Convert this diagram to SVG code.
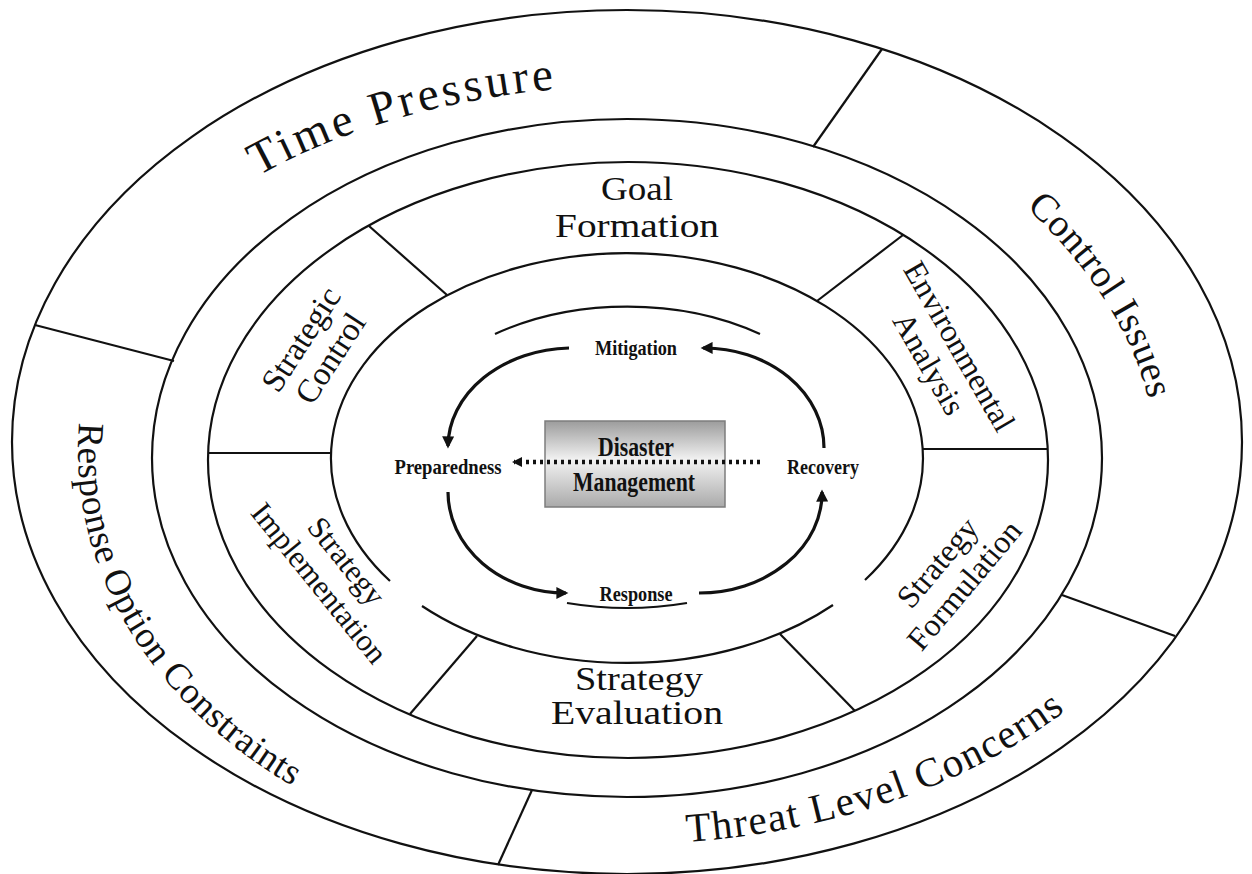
<svg xmlns="http://www.w3.org/2000/svg" width="1252" height="874" viewBox="0 0 1252 874">
<style>
.ring{fill:none;stroke:#111;stroke-width:2.2}
.sep{stroke:#111;stroke-width:2.2;fill:none}
.serif{font-family:"Liberation Serif","Times New Roman",serif;fill:#111}
.outer{font-size:40px}
.mid{font-size:32px;text-anchor:middle}
.cyc{font-size:21px;font-weight:bold;text-anchor:middle}
.dm{font-size:27px;font-weight:bold;text-anchor:middle}
.arr{fill:none;stroke:#111;stroke-width:3.2}
</style>
<defs>
<marker id="ah" viewBox="0 0 10 10" refX="8" refY="5" markerWidth="13" markerHeight="12" markerUnits="userSpaceOnUse" orient="auto">
<path d="M0,0 L10,5 L0,10 z" fill="#111"/>
</marker>
<marker id="ahs" viewBox="0 0 10 10" refX="8" refY="5" markerWidth="10" markerHeight="10" markerUnits="userSpaceOnUse" orient="auto">
<path d="M0,0 L10,5 L0,10 z" fill="#111"/>
</marker>
<linearGradient id="boxg" x1="0" y1="0" x2="0" y2="1">
<stop offset="0" stop-color="#9c9c9c"/>
<stop offset="0.45" stop-color="#f2f2f2"/>
<stop offset="1" stop-color="#aaaaaa"/>
</linearGradient>
<path id="pTime" d="M258,176 A577,372 0 0 1 1034,189"/>
<path id="pControl" d="M1026,207 Q1124,300 1148,398 L1166,468"/>
<path id="pResp" d="M79.3,422.6 A548,421 0 0 0 626,873"/>
<path id="pThreat" d="M687,842 A585,392 0 0 0 1211,452"/>
</defs>
<rect width="1252" height="874" fill="#fff"/>

<g id="outer-ring">
<ellipse class="ring" cx="627" cy="442" rx="615" ry="432"/>
<ellipse class="ring" cx="627" cy="458" rx="475" ry="339"/>
<line class="sep" x1="882" y1="49" x2="813" y2="147"/>
<line class="sep" x1="35" y1="325" x2="174" y2="361"/>
<line class="sep" x1="1062" y1="595" x2="1175" y2="636"/>
<line class="sep" x1="532" y1="790" x2="498" y2="865"/>
</g>

<g id="middle-ring">
<ellipse class="ring" cx="628" cy="460" rx="420" ry="298"/>
<path class="ring" d="M422,606 A296,205 0 0 0 833,605 M865,580 A296,205 0 1 0 390,581"/>
<line class="sep" x1="447" y1="295" x2="369" y2="226"/>
<line class="sep" x1="817" y1="301" x2="903" y2="235"/>
<line class="sep" x1="208" y1="453" x2="331" y2="453"/>
<line class="sep" x1="923" y1="449" x2="1048" y2="449"/>
<line class="sep" x1="477" y1="636" x2="410" y2="714"/>
<line class="sep" x1="780" y1="634" x2="855" y2="711"/>
</g>

<g id="inner-ring">
<path class="ring" d="M495,334 A230,150 0 0 1 760,334"/>
<path class="ring" d="M567,603 Q627,613 687,603"/>
</g>

<g id="node-time-pressure">
<text class="serif outer" style="font-size:47px;letter-spacing:3.5px"><textPath href="#pTime">Time Pressure</textPath></text>
</g>
<g id="node-control-issues">
<text class="serif outer" style="font-size:39px;letter-spacing:0.5px"><textPath href="#pControl">Control Issues</textPath></text>
</g>
<g id="node-response-option-constraints">
<text class="serif outer" style="font-size:37px;letter-spacing:0.5px"><textPath href="#pResp">Response Option Constraints</textPath></text>
</g>
<g id="node-threat-level-concerns">
<text class="serif outer" style="font-size:41px;letter-spacing:1.5px"><textPath href="#pThreat">Threat Level Concerns</textPath></text>
</g>

<g id="node-goal-formation">
<text class="serif mid" x="637" y="200" style="font-size:34px" textLength="72" lengthAdjust="spacingAndGlyphs">Goal</text>
<text class="serif mid" x="637" y="237" style="font-size:34px" textLength="164" lengthAdjust="spacingAndGlyphs">Formation</text>
</g>
<g id="node-strategy-evaluation">
<text class="serif mid" x="639" y="690" style="font-size:34px" textLength="128" lengthAdjust="spacingAndGlyphs">Strategy</text>
<text class="serif mid" x="637" y="724" style="font-size:34px" textLength="172" lengthAdjust="spacingAndGlyphs">Evaluation</text>
</g>
<g id="node-strategic-control" transform="translate(316,349) rotate(-57)">
<text class="serif mid" x="0" y="-7" style="font-size:33px">Strategic</text>
<text class="serif mid" x="0" y="28" style="font-size:33px">Control</text>
</g>
<g id="node-environmental-analysis" transform="translate(944,355) rotate(60)">
<text class="serif mid" x="0" y="-7">Environmental</text>
<text class="serif mid" x="0" y="28">Analysis</text>
</g>
<g id="node-strategy-formulation" transform="translate(951,574) rotate(-50)">
<text class="serif mid" x="0" y="-7">Strategy</text>
<text class="serif mid" x="0" y="28">Formulation</text>
</g>
<g id="node-strategy-implementation" transform="translate(333,572) rotate(51)">
<text class="serif mid" x="0" y="-7" style="font-size:31px">Strategy</text>
<text class="serif mid" x="0" y="28" style="font-size:31px">Implementation</text>
</g>

<g id="node-disaster-management">
<rect x="545" y="421" width="180" height="86" fill="url(#boxg)" stroke="#7d7d7d" stroke-width="1.5"/>
</g>

<g id="connectors">
<path class="arr" d="M569,348 A125,99 0 0 0 448,446" marker-end="url(#ah)"/>
<path class="arr" d="M824,448 A120,100 0 0 0 703,348" marker-end="url(#ah)"/>
<path class="arr" d="M448,492 A118,101 0 0 0 566,593" marker-end="url(#ah)"/>
<path class="arr" d="M699,593 A123,100 0 0 0 822,492" marker-end="url(#ah)"/>
<line x1="760" y1="462" x2="514" y2="462" stroke="#111" stroke-width="4.5" stroke-dasharray="3 4" marker-end="url(#ahs)"/>
</g>

<g id="node-disaster-management-text">
<text class="serif dm" x="636" y="456" textLength="76" lengthAdjust="spacingAndGlyphs">Disaster</text>
<text class="serif dm" x="634" y="491" textLength="122" lengthAdjust="spacingAndGlyphs">Management</text>
</g>
<g id="node-mitigation">
<text class="serif cyc" x="636" y="355" textLength="82" lengthAdjust="spacingAndGlyphs">Mitigation</text>
</g>
<g id="node-preparedness">
<text class="serif cyc" x="448" y="474" textLength="107" lengthAdjust="spacingAndGlyphs">Preparedness</text>
</g>
<g id="node-recovery">
<text class="serif cyc" x="823" y="474" textLength="72" lengthAdjust="spacingAndGlyphs">Recovery</text>
</g>
<g id="node-response">
<text class="serif cyc" x="636" y="601" textLength="73" lengthAdjust="spacingAndGlyphs">Response</text>
</g>
</svg>
